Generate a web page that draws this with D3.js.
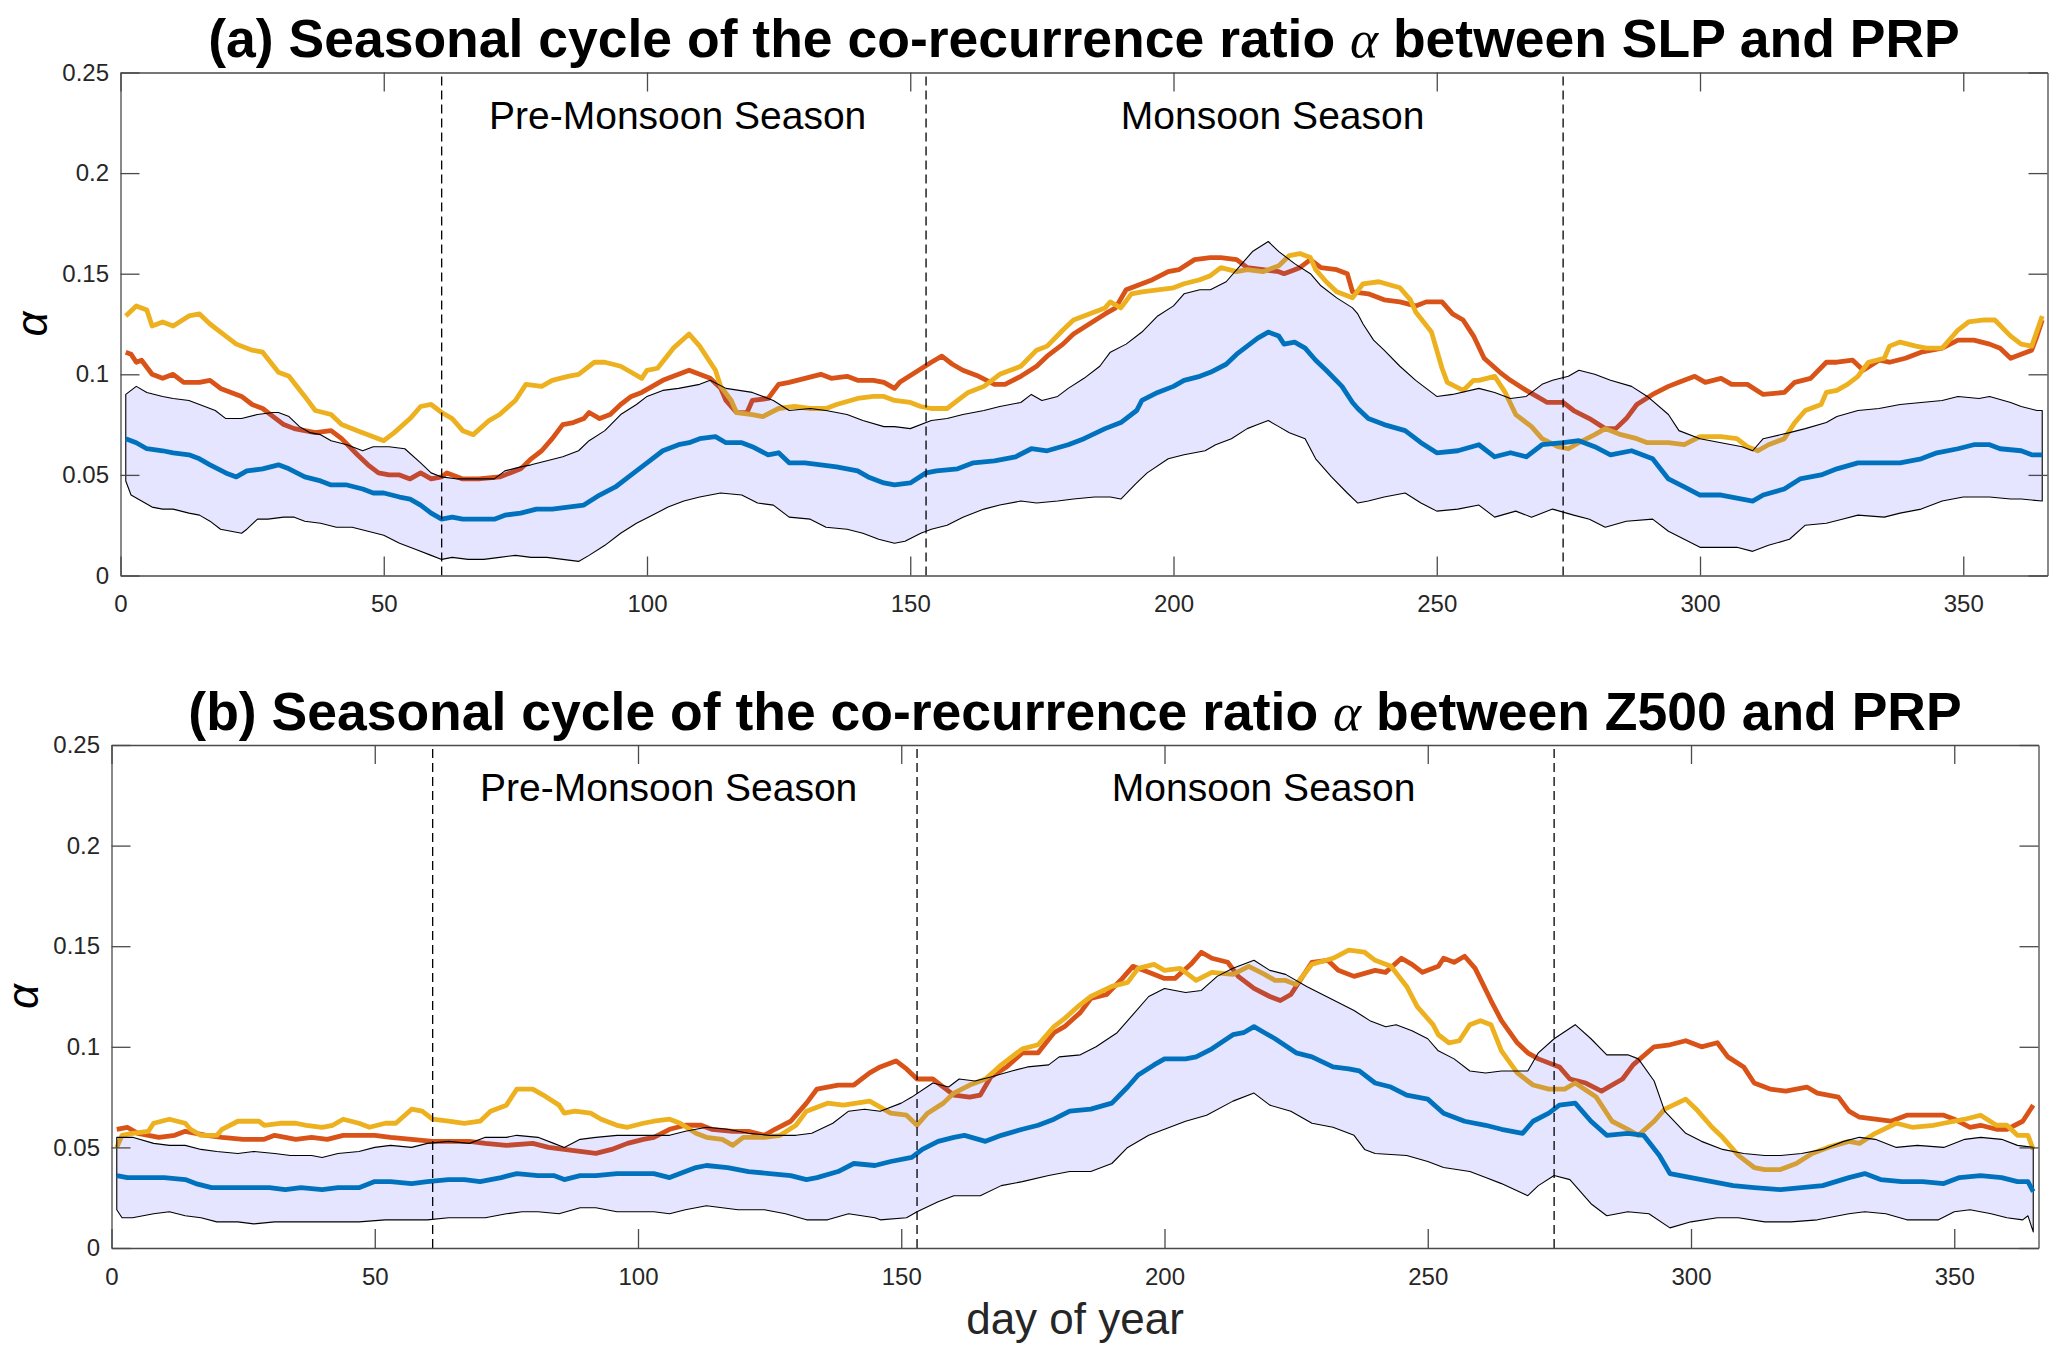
<!DOCTYPE html>
<html>
<head>
<meta charset="utf-8">
<script src="https://cdn.jsdelivr.net/npm/d3@7"></script>
<style>
  body { margin: 0; background: #fff; }
  svg text { font-family: "Liberation Sans", Arial, Helvetica, sans-serif; }
</style>
</head>
<body>
<script>
// x / y axes
var xDomain = [0, 366];
var yDomain = [0, 0.25];
var xTicks = [0, 50, 100, 150, 200, 250, 300, 350];
var yTicks = [0, 0.05, 0.1, 0.15, 0.2, 0.25];
var yTickLabels = ["0", "0.05", "0.1", "0.15", "0.2", "0.25"];

// season boundaries (day of year) and season labels
var seasonBounds = [61, 153, 274];
var seasonNames = ["Pre-Monsoon Season", "Monsoon Season"];
var seasonLabelDays = [70, 190];
var seasonLabelAlpha = 0.222;

// panel (a): SLP and PRP -- [day, alpha]
var aRed = [[1,.111],[2,.110],[3,.106],[4,.107],[6,.100],[8,.098],[10,.100],[12,.096],[15,.096],[17,.097],[19,.093],[21,.091],[23,.089],[25,.085],[27,.083],[29,.079],[31,.075],[33,.073],[35,.072],[37,.071],[40,.072],[42,.068],[45,.060],[47,.055],[49,.051],[51,.050],[53,.050],[55,.048],[57,.051],[59,.048],[61,.049],[62,.051],[65,.048],[68,.048],[72,.049],[74,.051],[76,.053],[78,.058],[80,.062],[82,.068],[84,.075],[86,.076],[88,.078],[89,.081],[91,.078],[93,.080],[95,.085],[97,.089],[99,.091],[101,.094],[103,.097],[105,.099],[107,.101],[108,.102],[110,.100],[112,.098],[114,.093],[115,.087],[117,.081],[119,.081],[120,.087],[123,.088],[125,.095],[127,.096],[130,.098],[133,.100],[135,.098],[138,.099],[140,.097],[143,.097],[145,.096],[147,.093],[148,.096],[151,.101],[154,.106],[156,.109],[158,.105],[160,.102],[163,.099],[166,.095],[168,.095],[171,.099],[174,.104],[176,.109],[179,.115],[181,.120],[184,.125],[187,.130],[189,.133],[191,.142],[194,.145],[196,.147],[199,.151],[201,.152],[204,.157],[207,.158],[209,.158],[212,.157],[214,.153],[217,.152],[220,.151],[221,.150],[224,.153],[226,.157],[228,.153],[231,.152],[233,.150],[234,.141],[237,.140],[240,.137],[243,.136],[246,.134],[248,.136],[251,.136],[253,.130],[255,.127],[257,.119],[259,.108],[262,.101],[264,.097],[267,.092],[269,.089],[271,.086],[274,.086],[276,.082],[279,.078],[282,.073],[284,.073],[286,.078],[288,.085],[291,.090],[294,.094],[296,.096],[299,.099],[301,.096],[304,.098],[306,.095],[309,.095],[312,.090],[316,.091],[318,.096],[321,.098],[324,.106],[326,.106],[329,.107],[331,.102],[334,.107],[336,.106],[339,.108],[342,.111],[346,.113],[349,.117],[352,.117],[355,.115],[357,.113],[359,.108],[361,.110],[363,.112],[364,.119],[365,.127]];
var aGold = [[1,.129],[3,.134],[5,.132],[6,.124],[8,.126],[10,.124],[13,.129],[15,.130],[17,.125],[20,.119],[22,.115],[25,.112],[27,.111],[30,.101],[32,.099],[35,.089],[37,.082],[40,.080],[42,.075],[45,.072],[47,.070],[50,.067],[52,.071],[55,.078],[57,.084],[59,.085],[61,.081],[63,.078],[65,.072],[67,.070],[70,.077],[72,.080],[75,.087],[77,.095],[80,.094],[82,.097],[85,.099],[87,.100],[90,.106],[92,.106],[95,.104],[97,.101],[99,.098],[100,.102],[102,.103],[105,.113],[108,.120],[110,.114],[113,.102],[114,.094],[116,.087],[117,.081],[120,.080],[122,.079],[125,.083],[128,.084],[131,.083],[134,.083],[136,.085],[140,.088],[143,.089],[145,.089],[147,.087],[150,.086],[152,.084],[154,.083],[157,.083],[159,.087],[161,.091],[164,.094],[167,.100],[171,.104],[174,.112],[176,.114],[179,.122],[181,.127],[184,.130],[187,.133],[188,.136],[190,.133],[192,.140],[194,.141],[197,.142],[200,.143],[202,.145],[205,.147],[207,.149],[209,.153],[212,.151],[214,.152],[217,.151],[220,.154],[222,.159],[224,.160],[226,.158],[227,.152],[229,.146],[231,.141],[234,.138],[236,.145],[239,.146],[243,.143],[245,.137],[246,.131],[249,.121],[251,.103],[252,.096],[255,.092],[257,.097],[258,.097],[261,.099],[263,.091],[265,.080],[268,.074],[270,.068],[273,.064],[275,.063],[277,.066],[280,.070],[282,.073],[285,.070],[288,.068],[290,.066],[294,.066],[297,.065],[300,.069],[304,.069],[307,.068],[309,.064],[311,.062],[313,.065],[316,.068],[318,.076],[320,.082],[323,.085],[324,.091],[326,.092],[328,.095],[330,.099],[332,.106],[335,.108],[336,.114],[338,.116],[341,.114],[343,.113],[346,.113],[349,.122],[351,.126],[354,.127],[356,.127],[359,.119],[361,.115],[363,.114],[365,.129]];
var aBlue = [[1,.068],[3,.066],[5,.063],[8,.062],[10,.061],[13,.060],[15,.058],[17,.055],[20,.051],[22,.049],[24,.052],[27,.053],[30,.055],[32,.053],[35,.049],[38,.047],[40,.045],[43,.045],[46,.043],[48,.041],[50,.041],[53,.039],[55,.038],[57,.035],[59,.031],[61,.028],[63,.029],[65,.028],[68,.028],[71,.028],[73,.030],[76,.031],[79,.033],[82,.033],[85,.034],[88,.035],[91,.040],[94,.044],[97,.050],[100,.056],[103,.062],[106,.065],[108,.066],[110,.068],[113,.069],[115,.066],[118,.066],[120,.064],[123,.060],[125,.061],[127,.056],[130,.056],[133,.055],[136,.054],[140,.052],[142,.049],[145,.046],[147,.045],[150,.046],[153,.051],[155,.052],[159,.053],[162,.056],[166,.057],[170,.059],[173,.063],[176,.062],[180,.065],[183,.068],[187,.073],[190,.076],[193,.082],[194,.087],[197,.091],[200,.094],[202,.097],[205,.099],[207,.101],[210,.105],[212,.110],[214,.114],[216,.118],[218,.121],[220,.119],[221,.115],[223,.116],[225,.113],[227,.107],[229,.102],[232,.094],[234,.086],[235,.083],[237,.078],[240,.075],[244,.072],[247,.066],[250,.061],[254,.062],[258,.065],[261,.059],[264,.061],[267,.059],[270,.065],[274,.066],[277,.067],[280,.064],[283,.060],[287,.062],[291,.058],[294,.048],[297,.044],[300,.040],[304,.040],[306,.039],[310,.037],[312,.040],[316,.043],[319,.048],[323,.050],[326,.053],[330,.056],[334,.056],[338,.056],[342,.058],[345,.061],[349,.063],[352,.065],[355,.065],[357,.063],[361,.062],[363,.060],[365,.060]];
var aHi = [[1,.090],[3,.094],[5,.091],[8,.089],[10,.088],[13,.087],[15,.085],[18,.082],[20,.078],[23,.078],[26,.080],[29,.081],[30,.081],[32,.079],[34,.074],[36,.071],[38,.070],[40,.067],[43,.065],[46,.062],[48,.064],[51,.064],[54,.063],[57,.056],[59,.051],[61,.049],[64,.048],[67,.048],[71,.048],[73,.052],[76,.054],[78,.055],[81,.057],[84,.059],[87,.062],[89,.067],[92,.072],[95,.080],[98,.085],[100,.089],[103,.092],[106,.093],[108,.094],[110,.095],[112,.097],[115,.093],[120,.091],[124,.087],[127,.082],[131,.083],[134,.082],[138,.080],[141,.077],[145,.074],[147,.074],[150,.073],[154,.077],[157,.078],[160,.080],[164,.082],[167,.084],[171,.086],[173,.090],[175,.087],[178,.089],[180,.093],[183,.098],[186,.104],[188,.111],[191,.115],[194,.121],[197,.129],[200,.134],[202,.140],[205,.142],[207,.142],[210,.146],[213,.155],[215,.161],[218,.166],[220,.161],[223,.155],[226,.150],[228,.144],[231,.138],[234,.133],[235,.130],[236,.125],[238,.117],[240,.112],[243,.104],[246,.097],[248,.093],[250,.089],[253,.090],[258,.093],[261,.091],[264,.088],[267,.089],[270,.095],[272,.097],[275,.099],[277,.102],[280,.100],[283,.097],[287,.094],[290,.089],[294,.080],[296,.072],[300,.068],[304,.066],[308,.064],[310,.062],[312,.068],[317,.071],[320,.073],[324,.076],[326,.079],[330,.082],[334,.083],[338,.085],[342,.086],[346,.087],[349,.089],[353,.088],[355,.089],[359,.086],[361,.084],[364,.082],[365,.082]];
var aLo = [[1,.047],[2,.040],[4,.037],[6,.034],[8,.033],[10,.033],[13,.031],[15,.030],[17,.027],[19,.023],[21,.022],[23,.021],[24,.023],[26,.028],[28,.028],[31,.029],[33,.029],[35,.027],[38,.026],[41,.024],[44,.024],[47,.022],[50,.020],[53,.016],[56,.013],[59,.010],[61,.008],[63,.009],[66,.008],[69,.008],[72,.009],[75,.010],[78,.009],[81,.009],[84,.008],[87,.007],[89,.010],[92,.015],[95,.021],[98,.026],[101,.030],[104,.034],[107,.037],[110,.039],[114,.041],[118,.040],[121,.036],[124,.035],[127,.029],[131,.028],[134,.024],[138,.023],[141,.021],[144,.018],[147,.016],[149,.017],[152,.021],[154,.023],[157,.025],[160,.029],[164,.033],[167,.035],[171,.037],[174,.036],[178,.037],[181,.038],[185,.039],[188,.039],[190,.038],[193,.046],[195,.051],[199,.058],[202,.060],[206,.062],[208,.065],[211,.068],[214,.073],[216,.075],[218,.077],[220,.074],[222,.071],[225,.068],[227,.058],[230,.049],[233,.041],[235,.036],[237,.037],[240,.039],[244,.041],[247,.036],[250,.032],[254,.033],[258,.035],[261,.029],[265,.032],[268,.029],[272,.033],[276,.030],[279,.028],[282,.024],[286,.027],[291,.028],[294,.022],[297,.018],[300,.014],[304,.014],[307,.014],[310,.012],[313,.015],[317,.018],[320,.025],[324,.026],[327,.028],[330,.030],[335,.029],[338,.031],[342,.033],[346,.037],[350,.039],[355,.039],[359,.038],[361,.038],[365,.037]];

// panel (b): Z500 and PRP -- [day, alpha]
var bRed = [[1,.059],[3,.060],[5,.057],[9,.055],[12,.056],[14,.058],[18,.056],[21,.055],[25,.054],[29,.054],[31,.056],[35,.054],[38,.055],[41,.054],[44,.056],[47,.056],[50,.056],[53,.055],[57,.054],[61,.053],[64,.053],[68,.053],[71,.052],[75,.051],[80,.052],[83,.050],[86,.049],[89,.048],[92,.047],[95,.049],[98,.052],[101,.054],[103,.055],[106,.059],[109,.061],[112,.061],[114,.059],[118,.058],[121,.058],[124,.056],[126,.059],[129,.063],[132,.072],[134,.079],[138,.081],[141,.081],[144,.087],[146,.090],[149,.093],[151,.089],[153,.084],[156,.084],[158,.080],[160,.076],[163,.075],[165,.076],[167,.085],[170,.090],[173,.097],[176,.097],[179,.107],[181,.110],[184,.117],[186,.124],[189,.126],[192,.134],[194,.140],[197,.137],[200,.134],[202,.134],[205,.141],[207,.147],[209,.144],[212,.142],[214,.135],[217,.129],[220,.125],[222,.123],[224,.126],[226,.134],[228,.142],[231,.143],[233,.138],[236,.135],[240,.138],[242,.137],[245,.144],[247,.141],[249,.137],[252,.140],[253,.144],[255,.142],[257,.145],[259,.139],[262,.123],[264,.113],[267,.102],[269,.097],[271,.094],[275,.090],[277,.084],[280,.082],[283,.078],[287,.084],[289,.091],[293,.100],[296,.101],[299,.103],[302,.100],[305,.102],[307,.095],[310,.090],[312,.082],[315,.079],[318,.078],[322,.080],[324,.077],[328,.075],[330,.068],[332,.065],[335,.064],[338,.063],[341,.066],[344,.066],[348,.066],[350,.064],[353,.060],[355,.061],[358,.059],[360,.059],[363,.063],[364,.067],[365,.071]];
var bGold = [[1,.050],[2,.056],[4,.057],[7,.058],[8,.062],[11,.064],[14,.062],[15,.059],[17,.056],[20,.056],[21,.059],[24,.063],[26,.063],[28,.063],[29,.061],[32,.062],[35,.062],[37,.061],[40,.060],[42,.061],[44,.064],[47,.062],[49,.060],[52,.062],[54,.062],[57,.069],[59,.068],[61,.064],[64,.063],[67,.062],[70,.063],[72,.068],[75,.071],[77,.079],[80,.079],[82,.076],[85,.071],[86,.067],[88,.068],[91,.067],[93,.064],[96,.061],[98,.060],[101,.062],[103,.063],[106,.064],[108,.062],[111,.057],[113,.055],[116,.054],[118,.051],[120,.055],[124,.055],[127,.056],[130,.061],[132,.068],[136,.072],[139,.071],[144,.073],[146,.070],[148,.067],[151,.066],[153,.061],[155,.067],[158,.072],[160,.077],[163,.081],[166,.084],[169,.091],[173,.099],[176,.101],[179,.110],[181,.114],[184,.121],[186,.125],[190,.130],[193,.132],[195,.139],[198,.141],[200,.138],[203,.139],[206,.133],[209,.137],[213,.136],[216,.140],[219,.136],[221,.133],[223,.133],[225,.131],[228,.141],[232,.144],[235,.148],[238,.147],[240,.143],[243,.140],[246,.130],[248,.120],[251,.111],[252,.106],[254,.102],[256,.103],[258,.111],[260,.113],[262,.111],[264,.098],[267,.087],[270,.081],[273,.079],[276,.079],[278,.082],[282,.075],[285,.063],[288,.059],[290,.056],[293,.063],[295,.069],[299,.074],[301,.069],[304,.060],[306,.055],[309,.046],[312,.040],[314,.039],[317,.039],[320,.042],[323,.047],[326,.050],[330,.053],[332,.052],[335,.057],[339,.062],[342,.060],[346,.061],[348,.062],[352,.064],[355,.066],[358,.061],[360,.061],[362,.056],[364,.056],[365,.049]];
var bBlue = [[1,.036],[3,.035],[7,.035],[10,.035],[14,.034],[16,.032],[19,.030],[22,.030],[25,.030],[30,.030],[33,.029],[36,.030],[40,.029],[43,.030],[47,.030],[50,.033],[53,.033],[57,.032],[60,.033],[64,.034],[67,.034],[70,.033],[74,.035],[77,.037],[81,.036],[84,.036],[86,.034],[89,.036],[92,.036],[96,.037],[99,.037],[103,.037],[106,.035],[109,.038],[111,.040],[113,.041],[117,.040],[121,.038],[125,.037],[129,.036],[132,.034],[134,.035],[138,.038],[141,.042],[145,.041],[148,.043],[152,.045],[154,.049],[157,.053],[160,.055],[162,.056],[166,.053],[169,.056],[173,.059],[176,.061],[179,.064],[182,.068],[186,.069],[190,.072],[193,.080],[195,.086],[198,.091],[200,.094],[204,.094],[206,.095],[209,.099],[213,.106],[215,.107],[217,.110],[219,.107],[221,.104],[225,.097],[228,.095],[232,.090],[235,.089],[237,.088],[240,.082],[243,.080],[246,.076],[250,.074],[253,.067],[257,.063],[261,.061],[264,.059],[268,.057],[270,.063],[273,.067],[275,.071],[278,.072],[281,.063],[284,.056],[288,.057],[291,.056],[294,.046],[296,.037],[300,.035],[304,.033],[308,.031],[312,.030],[317,.029],[321,.030],[325,.031],[330,.035],[333,.037],[336,.034],[340,.033],[344,.033],[348,.032],[351,.035],[355,.036],[359,.035],[362,.033],[364,.033],[365,.028]];
var bHi = [[1,.055],[4,.055],[8,.052],[11,.051],[14,.051],[17,.049],[20,.048],[24,.047],[27,.048],[31,.047],[34,.046],[38,.046],[40,.045],[43,.047],[47,.048],[50,.050],[53,.051],[57,.050],[60,.052],[64,.053],[68,.052],[71,.055],[75,.055],[77,.056],[81,.055],[84,.052],[86,.050],[89,.054],[92,.055],[96,.056],[99,.056],[103,.056],[106,.056],[109,.058],[113,.060],[117,.059],[121,.057],[125,.056],[130,.056],[133,.057],[137,.062],[140,.068],[143,.069],[146,.068],[150,.072],[152,.075],[156,.082],[159,.080],[161,.084],[164,.083],[167,.085],[171,.088],[174,.090],[178,.091],[180,.095],[184,.096],[187,.100],[191,.107],[194,.116],[197,.125],[200,.129],[204,.127],[207,.128],[210,.135],[213,.139],[217,.143],[220,.138],[223,.136],[227,.130],[230,.126],[233,.122],[236,.118],[239,.113],[242,.110],[244,.111],[247,.108],[250,.104],[252,.098],[255,.094],[258,.088],[261,.087],[264,.088],[269,.088],[271,.097],[274,.104],[278,.111],[281,.104],[284,.096],[288,.096],[290,.094],[293,.083],[295,.068],[299,.057],[302,.053],[306,.049],[310,.047],[314,.046],[317,.046],[321,.047],[325,.049],[329,.053],[332,.055],[335,.054],[339,.050],[343,.051],[348,.050],[352,.054],[355,.055],[359,.054],[362,.051],[365,.050]];
var bLo = [[1,.019],[2,.015],[4,.015],[8,.017],[11,.018],[14,.016],[17,.015],[20,.013],[24,.013],[27,.012],[31,.013],[34,.013],[38,.013],[43,.013],[47,.013],[52,.014],[56,.014],[60,.014],[64,.015],[68,.015],[71,.015],[75,.017],[78,.018],[81,.018],[85,.017],[89,.020],[92,.020],[96,.018],[100,.018],[103,.018],[106,.017],[109,.019],[113,.021],[119,.019],[124,.019],[128,.017],[132,.014],[136,.014],[140,.017],[145,.015],[146,.014],[151,.015],[153,.018],[157,.023],[160,.026],[165,.026],[169,.031],[173,.033],[178,.036],[182,.038],[186,.038],[190,.042],[193,.050],[197,.056],[200,.059],[204,.063],[208,.066],[213,.073],[217,.077],[220,.071],[224,.068],[228,.062],[232,.060],[236,.056],[238,.049],[240,.047],[246,.046],[250,.043],[253,.040],[258,.038],[261,.035],[264,.032],[269,.026],[271,.031],[274,.036],[277,.034],[281,.022],[284,.016],[288,.018],[292,.017],[296,.010],[300,.013],[305,.015],[309,.015],[314,.013],[319,.013],[324,.014],[330,.017],[333,.018],[337,.017],[341,.014],[347,.014],[350,.018],[353,.019],[357,.017],[360,.015],[363,.014],[364,.016],[365,.008]];

var colors = { blue: "#0072BD", red: "#D95319", gold: "#EDB120", axis: "#4a4a4a", tickText: "#262626" };

var panels = [
  { left: 120.5, top: 72.5, width: 1927, height: 503, titleY: 56.5,
    titleHead: "(a) Seasonal cycle of the co-recurrence ratio ", titleTail: " between SLP and PRP",
    red: aRed, gold: aGold, blue: aBlue, hi: aHi, lo: aLo, xlabel: false },
  { left: 111.5, top: 745, width: 1927, height: 503, titleY: 729.5,
    titleHead: "(b) Seasonal cycle of the co-recurrence ratio ", titleTail: " between Z500 and PRP",
    red: bRed, gold: bGold, blue: bBlue, hi: bHi, lo: bLo, xlabel: true }
];

var svg = d3.select("body").append("svg")
    .attr("width", 2067)
    .attr("height", 1362);

function drawPanel(p) {
  var x = d3.scaleLinear().domain(xDomain).range([p.left, p.left + p.width]);
  var y = d3.scaleLinear().domain(yDomain).range([p.top + p.height, p.top]);
  var line = d3.line().x(function (d) { return x(d[0]); }).y(function (d) { return y(d[1]); });
  var g = svg.append("g");

  g.append("path").datum(p.red).attr("d", line)
      .attr("fill", "none").attr("stroke", colors.red).attr("stroke-width", 4.8)
      .attr("stroke-linejoin", "round");
  g.append("path").datum(p.gold).attr("d", line)
      .attr("fill", "none").attr("stroke", colors.gold).attr("stroke-width", 4.8)
      .attr("stroke-linejoin", "round");

  // spread band: upper edge forward, lower edge back
  var band = p.hi.concat(p.lo.slice().reverse());
  g.append("path").datum(band).attr("d", function (d) { return line(d) + "Z"; })
      .attr("fill", "rgb(0,0,255)").attr("fill-opacity", 0.1)
      .attr("stroke", "#000").attr("stroke-width", 1.1).attr("stroke-linejoin", "round");

  g.append("path").datum(p.blue).attr("d", line)
      .attr("fill", "none").attr("stroke", colors.blue).attr("stroke-width", 4.8)
      .attr("stroke-linejoin", "round");

  g.selectAll("line.season").data(seasonBounds).enter().append("line")
      .attr("class", "season")
      .attr("x1", function (d) { return x(d); }).attr("x2", function (d) { return x(d); })
      .attr("y1", y(yDomain[0])).attr("y2", y(yDomain[1]))
      .attr("stroke", "#000").attr("stroke-width", 1.3).attr("stroke-dasharray", "9,5");

  g.selectAll("text.season").data(seasonNames).enter().append("text")
      .attr("class", "season")
      .attr("x", function (d, i) { return x(seasonLabelDays[i]); })
      .attr("y", y(seasonLabelAlpha))
      .attr("font-size", 39).attr("fill", "#000")
      .text(function (d) { return d; });

  // axes, ticks pointing inward on all four sides
  var tick = 19;
  var bottom = g.append("g").attr("transform", "translate(0," + (p.top + p.height) + ")")
      .call(d3.axisBottom(x).tickValues(xTicks).tickSizeInner(-tick).tickSizeOuter(0).tickPadding(19.5));
  var top = g.append("g").attr("transform", "translate(0," + p.top + ")")
      .call(d3.axisTop(x).tickValues(xTicks).tickSizeInner(-tick).tickSizeOuter(0).tickFormat(""));
  var left = g.append("g").attr("transform", "translate(" + p.left + ",0)")
      .call(d3.axisLeft(y).tickValues(yTicks).tickSizeInner(-tick).tickSizeOuter(0).tickPadding(11.5)
        .tickFormat(function (d, i) { return yTickLabels[i]; }));
  var right = g.append("g").attr("transform", "translate(" + (p.left + p.width) + ",0)")
      .call(d3.axisRight(y).tickValues(yTicks).tickSizeInner(-tick).tickSizeOuter(0).tickFormat(""));

  [bottom, top, left, right].forEach(function (a) {
    a.select(".domain").attr("stroke", colors.axis).attr("stroke-width", 1.3);
    a.selectAll(".tick line").attr("stroke", colors.axis).attr("stroke-width", 1.3);
    a.selectAll(".tick text").attr("fill", colors.tickText)
        .attr("font-size", 24).attr("font-family", "Liberation Sans, Arial, sans-serif");
  });

  // title with a Greek alpha
  var t = g.append("text")
      .attr("x", p.left + p.width / 2).attr("y", p.titleY)
      .attr("text-anchor", "middle").attr("font-size", 53.5).attr("font-weight", "bold").attr("fill", "#000");
  t.append("tspan").text(p.titleHead);
  t.append("tspan").attr("font-family", "Liberation Serif, serif").attr("font-style", "italic")
      .attr("font-weight", "normal").text("\u03b1");
  t.append("tspan").text(p.titleTail);

  // y label
  g.append("text")
      .attr("transform", "translate(" + (p.left - 73.5) + "," + (p.top + p.height / 2) + ") rotate(-90)")
      .attr("text-anchor", "middle").attr("font-size", 44)
      .attr("font-family", "Liberation Serif, serif").attr("font-style", "italic").attr("fill", "#000")
      .text("\u03b1");

  if (p.xlabel) {
    g.append("text")
        .attr("x", p.left + p.width / 2).attr("y", p.top + p.height + 86)
        .attr("text-anchor", "middle").attr("font-size", 44).attr("fill", "#262626")
        .text("day of year");
  }
}

panels.forEach(drawPanel);
</script>
</body>
</html>
